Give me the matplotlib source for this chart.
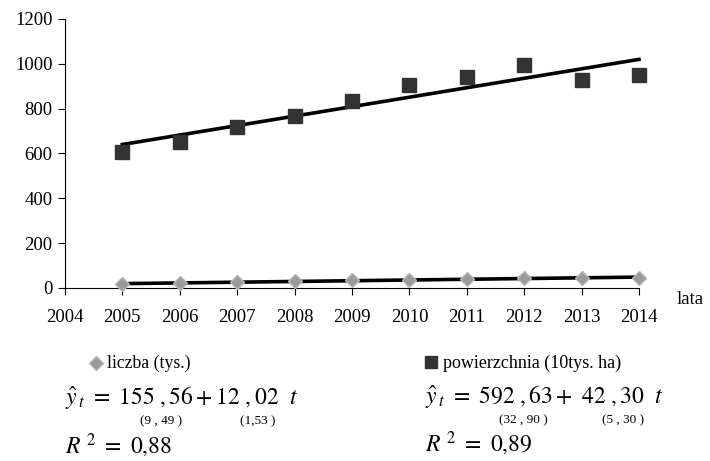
import matplotlib.pyplot as plt
from matplotlib.lines import Line2D
import numpy as np

plt.rcParams['font.family'] = ['Liberation Serif', 'DejaVu Serif']
plt.rcParams['mathtext.fontset'] = 'stix'

lata = np.arange(2005, 2015)
powierzchnia = [608, 653, 720, 766, 834, 905, 943, 995, 928, 948]
liczba = [17, 22, 26, 30, 34, 37, 41, 43, 44, 46]
x_ticks = list(range(2004, 2015))
y_ticks = [0, 200, 400, 600, 800, 1000, 1200]

fig = plt.figure(figsize=(7.1, 4.61), dpi=100)
ax = fig.add_axes([0.0915, 0.3753, 0.8085, 0.5835])

# linie trendu
t = np.arange(1, len(lata) + 1)
for vals in (powierzchnia, liczba):
    b, a = np.polyfit(t, vals, 1)
    ax.plot(lata, a + b * t, color='black', linewidth=2.6, zorder=2,
            clip_on=False)

ax.plot(lata, powierzchnia, linestyle='none', marker='s', markersize=10,
        color='#333333', zorder=3, clip_on=False)
ax.plot(lata, liczba, linestyle='none', marker='D', markersize=7,
        markerfacecolor='#9a9a9a', markeredgecolor='#b5b5b5', zorder=3,
        clip_on=False)

ax.set_xlim(2004, 2014)
ax.set_ylim(0, 1200)
ax.set_xticks(x_ticks)
ax.set_yticks(y_ticks)
ax.tick_params(labelsize=13.5, length=5, width=0.8, direction='out', pad=10)
ax.tick_params(axis='y', pad=4)
for s in ('top', 'right'):
    ax.spines[s].set_visible(False)
for s in ('left', 'bottom'):
    ax.spines[s].set_linewidth(0.8)
fig.text(690 / 710, 1 - 300 / 461, 'lata', fontsize=13.5, ha='center', va='center')

# legenda i rownania
def fx(px):
    return px / 710

def fy(py):
    return 1 - py / 461

fig.add_artist(Line2D([fx(96)], [fy(363)], marker='D', markersize=7,
                      markerfacecolor='#9a9a9a', markeredgecolor='#b5b5b5',
                      transform=fig.transFigure))
fig.text(fx(107), fy(363), 'liczba (tys.)', fontsize=12.8, va='center')
fig.add_artist(Line2D([fx(431)], [fy(362)], marker='s', markersize=9,
                      color='#333333', transform=fig.transFigure))
fig.text(fx(443), fy(363), 'powierzchnia (10tys. ha)', fontsize=13, va='center')

fig.text(fx(65), fy(397), r'$\hat{y}_{\,t}\ =\ 155\ ,56+12\ ,02\ \ t$',
         fontsize=17, va='center')
fig.text(fx(161), fy(421), '(9 , 49 )', fontsize=9.5, ha='center', va='center')
fig.text(fx(258), fy(421), '(1,53 )', fontsize=9.5, ha='center', va='center')
fig.text(fx(65), fy(446), r'$R^{\ 2}\ =\ 0{,}88$', fontsize=17, va='center')

fig.text(fx(425), fy(396), r'$\hat{y}_{\,t}\ =\ 592\ ,63+\ 42\ ,30\ \ t$',
         fontsize=17, va='center')
fig.text(fx(523), fy(420), '(32 , 90 )', fontsize=9.5, ha='center', va='center')
fig.text(fx(623), fy(420), '(5 , 30 )', fontsize=9.5, ha='center', va='center')
fig.text(fx(425), fy(444), r'$R^{\ 2}\ =\ 0{,}89$', fontsize=17, va='center')

fig.savefig('out.png', dpi=100)
